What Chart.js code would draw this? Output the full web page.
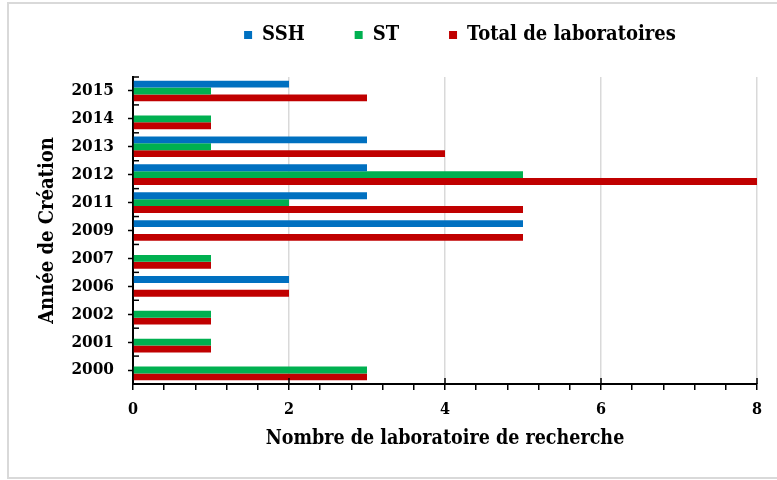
<!DOCTYPE html>
<html>
<head>
<meta charset="utf-8">
<script src="https://cdn.jsdelivr.net/npm/chart.js@4"></script>
<style>
  html, body { margin: 0; padding: 0; background: #fff; overflow: hidden; }
  #wrap { width: 777px; height: 480px; position: relative; }
</style>
</head>
<body>
<div id="wrap"><canvas id="c" width="777" height="480"></canvas></div>
<script>
const categories = ['2015', '2014', '2013', '2012', '2011', '2009', '2007', '2006', '2002', '2001', '2000'];
const seriesNames = ['SSH', 'ST', 'Total de laboratoires'];
const ssh   = [2, 0, 3, 3, 3, 5, 0, 2, 0, 0, 0];
const st    = [1, 1, 1, 5, 2, 0, 1, 0, 1, 1, 3];
const total = [3, 1, 4, 8, 5, 5, 1, 2, 1, 1, 3];
const xTickLabels = ['0', '2', '4', '6', '8'];
const xTitle = 'Nombre de laboratoire de recherche';
const yTitle = 'Année de Création';

const FONT = "'DejaVu Serif Condensed', 'DejaVu Serif', serif";

const decor = {
  id: 'decor',
  beforeDraw(chart) {
    const c = chart.ctx;
    c.save();
    c.fillStyle = '#fff';
    c.fillRect(0, 0, chart.width, chart.height);
    c.strokeStyle = '#d9d9d9';
    c.lineWidth = 2;
    c.beginPath();
    c.moveTo(790, 3); c.lineTo(8, 3); c.lineTo(8, 478); c.lineTo(790, 478);
    c.stroke();
    c.restore();
  },
  afterLayout(chart) {
    const L = chart.legend;
    const dx = 460 - (L.left + L.right) / 2;
    L.left += dx; L.right += dx;
    L.top -= 25; L.bottom -= 25;
  },
  afterDraw(chart) {
    const c = chart.ctx;
    const xs = chart.scales.x, ys = chart.scales.y;
    const a = chart.chartArea;
    c.save();
    c.strokeStyle = '#000';
    c.lineWidth = 1.5;
    xs.ticks.forEach(t => {
      if (t.value > 0 && Math.abs(t.value / 2 - Math.round(t.value / 2)) < 1e-6) {
        const px = xs.getPixelForValue(t.value);
        c.beginPath(); c.moveTo(px, a.bottom - 6); c.lineTo(px, a.bottom); c.stroke();
      }
    });
    const n = categories.length;
    for (let i = 0; i <= n; i++) {
      const py = ys.getPixelForValue(i - 0.5);
      c.beginPath(); c.moveTo(a.left, py); c.lineTo(a.left + 6, py); c.stroke();
    }
    c.restore();
  }
};

new Chart(document.getElementById('c'), {
  type: 'bar',
  data: {
    labels: categories,
    datasets: [
      { label: seriesNames[0], data: ssh,   backgroundColor: '#0070C0' },
      { label: seriesNames[1], data: st,    backgroundColor: '#00B050' },
      { label: seriesNames[2], data: total, backgroundColor: '#C00000' }
    ]
  },
  options: {
    indexAxis: 'y',
    responsive: false,
    animation: false,
    devicePixelRatio: 1,
    categoryPercentage: 0.74,
    barPercentage: 1.0,
    layout: { padding: { left: 20, right: 20, top: 0, bottom: 26 } },
    plugins: {
      tooltip: { enabled: false },
      legend: {
        position: 'top',
        align: 'center',
        maxHeight: 77,
        labels: {
          boxWidth: 8,
          boxHeight: 8,
          padding: 50,
          color: '#000',
          font: { family: FONT, size: 20, weight: 'bold' }
        }
      }
    },
    scales: {
      x: {
        min: 0,
        max: 8,
        afterFit(s) { s.height = 480 - 384 - 26; },
        ticks: {
          stepSize: 0.4,
          autoSkip: false,
          maxRotation: 0,
          padding: 10,
          color: '#000',
          font: { family: FONT, size: 16, weight: 'bold' },
          callback(v) {
            const k = Math.round(v / 2);
            return Math.abs(v / 2 - k) < 1e-6 ? xTickLabels[k] : '';
          }
        },
        grid: {
          drawOnChartArea: true,
          tickLength: 6,
          tickColor: '#000',
          tickWidth: 1.5,
          lineWidth: 1.5,
          color(ctx) {
            const v = ctx.tick ? ctx.tick.value : 0;
            if (v > 0 && Math.abs(v / 2 - Math.round(v / 2)) < 1e-6) return '#d9d9d9';
            return 'rgba(0,0,0,0)';
          }
        },
        border: { color: '#000', width: 2 },
        title: {
          display: true,
          text: xTitle,
          color: '#000',
          padding: { top: 0, bottom: 3 },
          font: { family: FONT, size: 19.5, weight: 'bold' }
        }
      },
      y: {
        afterFit(s) { s.width = 113; },
        ticks: {
          padding: 14,
          color: '#000',
          font: { family: FONT, size: 17, weight: 'bold' }
        },
        grid: {
          drawOnChartArea: false,
          offset: false,
          tickLength: 5,
          tickColor: '#000',
          tickWidth: 1.5
        },
        border: { color: '#000', width: 2 },
        title: {
          display: true,
          text: yTitle,
          color: '#000',
          padding: { top: 16, bottom: 0 },
          font: { family: FONT, size: 20, weight: 'bold' }
        }
      }
    }
  },
  plugins: [decor]
});
</script>
</body>
</html>
